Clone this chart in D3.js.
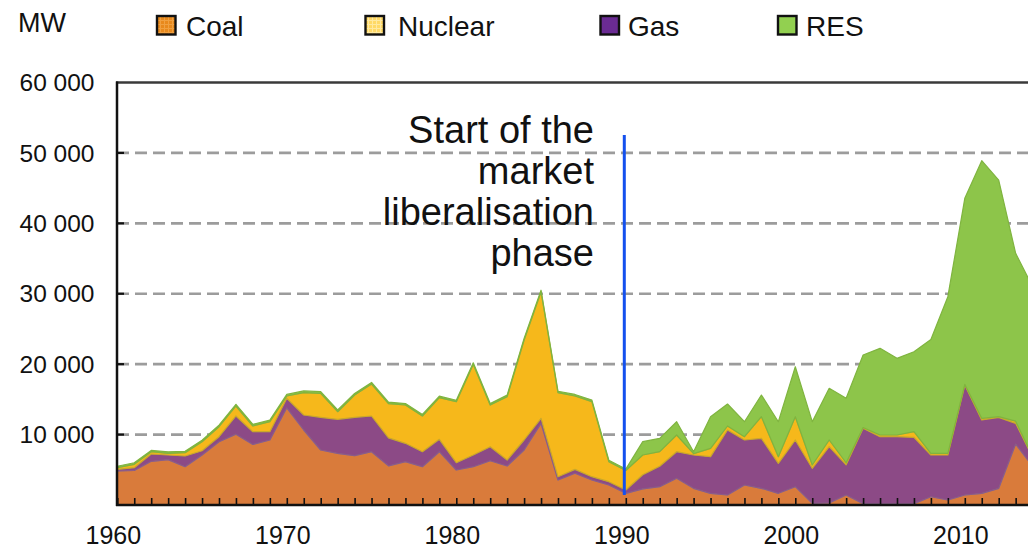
<!DOCTYPE html>
<html><head><meta charset="utf-8">
<script src="https://cdn.jsdelivr.net/npm/d3@7"></script>
<style>body{margin:0;background:#fff;} svg{display:block;font-family:"Liberation Sans",Arial,sans-serif;}</style>
</head><body><svg id="c" width="1028" height="549"></svg>
<script>
const years = [1960,1961,1962,1963,1964,1965,1966,1967,1968,1969,
  1970,1971,1972,1973,1974,1975,1976,1977,1978,1979,
  1980,1981,1982,1983,1984,1985,1986,1987,1988,1989,
  1990,1991,1992,1993,1994,1995,1996,1997,1998,1999,
  2000,2001,2002,2003,2004,2005,2006,2007,2008,2009,
  2010,2011,2012,2013,2014];
const coal = [4830,4900,6200,6450,5440,7100,8990,10060,8600,9230,
  13800,10650,7810,7340,7000,7570,5560,6150,5440,7570,
  4970,5440,6290,5540,7810,11600,3550,4500,3550,2840,
  1660,2300,2600,3790,2370,1660,1420,2840,2370,1660,
  2600,240,300,1420,200,200,200,200,1180,710,
  1420,1660,2370,8660,5500];
const gas = [230,400,1040,650,1520,610,710,2580,1810,1180,
  1350,2130,4640,4830,5450,5070,3980,2610,2130,1760,
  1040,1660,1990,850,1420,710,470,560,470,470,
  470,2000,2900,3780,4730,5200,9230,6390,7100,4260,
  6630,4970,7980,4280,10690,9500,9500,9410,5920,6390,
  15620,10410,10080,2940,1300];
const nuclear = [240,480,330,240,470,1280,1420,1420,810,1420,
  330,3170,3410,1080,3170,4540,4850,5440,5070,5910,
  8670,12880,5920,8990,14200,17980,11930,10420,10660,2840,
  2770,2800,2070,2370,200,1190,570,470,3070,940,
  3310,470,950,300,110,240,240,800,240,240,
  100,240,90,300,100];
const res = [200,220,180,210,190,210,230,240,230,220,
  220,250,240,250,230,220,210,200,210,210,
  200,220,200,220,220,210,200,220,220,200,
  200,1900,1900,1890,270,4490,3120,2130,3080,4970,
  7100,6150,7340,9150,10300,12310,10890,11360,16160,22240,
  26410,36590,33610,23840,24100];

const yTicks = [10000,20000,30000,40000,50000,60000];
const xTickLabels = [1960,1970,1980,1990,2000,2010];
const unitLabel = "MW";
const legendItems = ["Coal","Nuclear","Gas","RES"];
const annotationLines = ["Start of the","market","liberalisation","phase"];
const annotationYear = 1990;

const svg = d3.select("#c");
const x = d3.scaleLinear().domain([1960,2014]).range([117.3,1032.6]);
const y = d3.scaleLinear().domain([0,60000]).range([505,82.5]);

const areaColors = {coal:"#d97b3b", gas:"#8c4a86", nuclear:"#f6b81b", res:"#8dc54a"};
const edgeColors = {coal:"#a07a7e", gas:"#8a5c88", nuclear:"#c9a82a", res:"#7fb43f"};
const swatch = {Coal:"url(#pCoal)", Nuclear:"url(#pNuc)", Gas:"#6a2b93", RES:"#92d050"};

const defs = svg.append("defs");
function pat(id, base, line){
  const p = defs.append("pattern").attr("id",id).attr("width",4).attr("height",4).attr("patternUnits","userSpaceOnUse");
  p.append("rect").attr("width",4).attr("height",4).attr("fill",base);
  p.append("path").attr("d","M0,0.5H4M0.5,0V4").attr("stroke",line).attr("stroke-width",1);
}
pat("pCoal","#e8891c","#f0a040");
pat("pNuc","#ffd966","#ffe9a0");

const fmt = v => d3.format(",")(v).replace(/,/g," ");
svg.append("g").selectAll("line").data(yTicks.filter(v=>v<60000)).join("line")
  .attr("x1",117).attr("x2",1028).attr("y1",d=>y(d)).attr("y2",d=>y(d))
  .attr("stroke","#9c9c9c").attr("stroke-width",2.6).attr("stroke-dasharray","12,6");

const table = years.map((yr,i)=>({year:yr, coal:coal[i], gas:gas[i], nuclear:nuclear[i], res:res[i]}));
const keys = ["coal","gas","nuclear","res"];
const series = d3.stack().keys(keys)(table);
const area = d3.area().x(d=>x(d.data.year)).y0(d=>y(d[0])).y1(d=>y(d[1]));
svg.append("g").selectAll("path").data(series).join("path")
  .attr("d",area).attr("fill",d=>areaColors[d.key])
  .attr("stroke",d=>edgeColors[d.key]).attr("stroke-width",1.2).attr("stroke-linejoin","round");

svg.append("line").attr("x1",116).attr("x2",1028).attr("y1",y(60000)).attr("y2",y(60000))
  .attr("stroke","#3a3a3a").attr("stroke-width",2.4);

svg.append("line").attr("x1",117).attr("x2",117).attr("y1",y(60000)-1).attr("y2",506)
  .attr("stroke","#111").attr("stroke-width",2.5);
svg.append("g").selectAll("line").data(yTicks.filter(v=>v<60000)).join("line")
  .attr("x1",117).attr("x2",124).attr("y1",d=>y(d)).attr("y2",d=>y(d))
  .attr("stroke","#111").attr("stroke-width",2.2);
svg.append("g").selectAll("text").data(yTicks).join("text")
  .attr("x",94.5).attr("y",d=>y(d)+8.7).attr("text-anchor","end")
  .attr("font-size",24.5).attr("fill","#111").text(fmt);

const xAxis = d3.axisBottom(x).tickValues(years).tickSize(-7).tickFormat("");
const gx = svg.append("g").attr("transform","translate(0,505)").call(xAxis);
gx.select(".domain").remove();
gx.selectAll(".tick line").attr("stroke","#111").attr("stroke-width",1.6);
svg.append("line").attr("x1",116).attr("x2",1028).attr("y1",505).attr("y2",505)
  .attr("stroke","#111").attr("stroke-width",2.6);
svg.append("g").selectAll("text").data(xTickLabels).join("text")
  .attr("x",d=>x(d)-4).attr("y",543.5).attr("text-anchor","middle")
  .attr("font-size",25).attr("fill","#111").text(d=>d);

svg.append("line").attr("x1",x(annotationYear)-1.5).attr("x2",x(annotationYear)-1.5)
  .attr("y1",135).attr("y2",495).attr("stroke","#1450ee").attr("stroke-width",3);
svg.append("g").selectAll("text").data(annotationLines).join("text")
  .attr("x",594).attr("y",(d,i)=>143+i*41).attr("text-anchor","end")
  .attr("font-size",38).attr("fill","#111").text(d=>d);

svg.append("text").attr("x",18).attr("y",32).attr("font-size",27).attr("fill","#111").text(unitLabel);
const legX = {Coal:[156,186], Nuclear:[364.5,398], Gas:[599.5,628], RES:[777,806]};
const lg = svg.append("g").selectAll("g").data(legendItems).join("g");
lg.append("rect").attr("x",d=>legX[d][0]+1).attr("y",16).attr("width",18.5).attr("height",18.5)
  .attr("fill",d=>swatch[d]).attr("stroke","#111").attr("stroke-width",2.4);
lg.append("text").attr("x",d=>legX[d][1]).attr("y",36).attr("font-size",28).attr("fill","#111").text(d=>d);
</script></body></html>
